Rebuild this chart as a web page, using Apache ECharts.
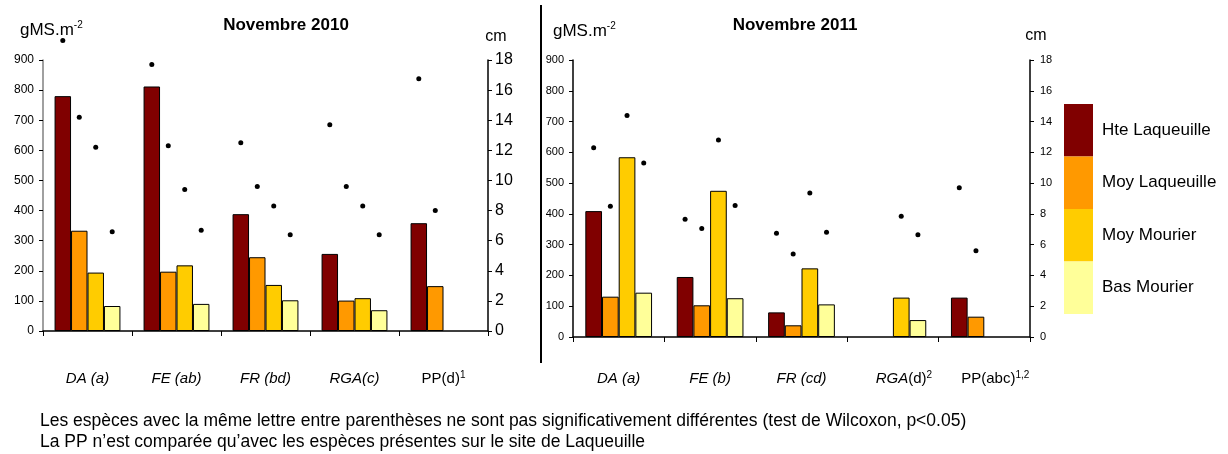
<!DOCTYPE html>
<html><head><meta charset="utf-8">
<script src="https://cdn.jsdelivr.net/npm/echarts@6/dist/echarts.min.js"></script>
<style>html,body{margin:0;padding:0;background:#fff}#c{width:1228px;height:454px}</style>
</head><body><div id="c"></div>
<script>
// ---- data ----
const species = ['DA', 'FE', 'FR', 'RGA', 'PP'];
const letters2010 = [' (a)', ' (ab)', ' (bd)', '(c)', '(d)'];
const notes2010 = ['', '', '', '', '1'];
const letters2011 = [' (a)', ' (b)', ' (cd)', '(d)', '(abc)'];
const notes2011 = ['', '', '', '2', '1,2'];
const sites = ['Hte Laqueuille', 'Moy Laqueuille', 'Moy Mourier', 'Bas Mourier'];

// biomass (gMS.m-2), Novembre 2010
const hte2010 = [780, 812, 388, 256, 358];
const moyLaq2010 = [333, 197, 245, 101, 149];
const moyMour2010 = [194, 218, 153, 109, null];
const bas2010 = [83, 90, 102, 69, null];
// height (cm), Novembre 2010
const hteCm2010 = [19.3, 17.7, 12.5, 13.7, 16.75];
const moyLaqCm2010 = [14.2, 12.3, 9.6, 9.6, 8.0];
const moyMourCm2010 = [12.2, 9.4, 8.3, 8.3, null];
const basCm2010 = [6.6, 6.7, 6.4, 6.4, null];

// biomass (gMS.m-2), Novembre 2011
const hte2011 = [409, 195, 80, null, 128];
const moyLaq2011 = [131, 103, 38, null, 66];
const moyMour2011 = [584, 475, 223, 128, null];
const bas2011 = [144, 126, 106, 55, null];
// height (cm), Novembre 2011
const hteCm2011 = [12.3, 7.65, 6.75, null, 9.7];
const moyLaqCm2011 = [8.5, 7.05, 5.4, null, 5.6];
const moyMourCm2011 = [14.4, 12.8, 9.35, 7.85, null];
const basCm2011 = [11.3, 8.55, 6.8, 6.65, null];

const biomassMax = 900, biomassStep = 100;
const cmMax = 18, cmStep = 2;

// ---- styling ----
const FONT = "'Liberation Sans',Arial,sans-serif";
const colors = ['#800000', '#FF9900', '#FFCC00', '#FFFF99'];

const bars = [[hte2010, moyLaq2010, moyMour2010, bas2010], [hte2011, moyLaq2011, moyMour2011, bas2011]];
const dots = [[hteCm2010, moyLaqCm2010, moyMourCm2010, basCm2010], [hteCm2011, moyLaqCm2011, moyMourCm2011, basCm2011]];
const catGaps = ['26%', '27%'];

const series = [];
for (let g = 0; g < 2; g++) {
  for (let s = 0; s < 4; s++) {
    series.push({
      type: 'bar', name: sites[s], xAxisIndex: g, yAxisIndex: 2 * g,
      data: bars[g][s], barGap: 0, barCategoryGap: catGaps[g],
      itemStyle: { color: colors[s], borderColor: '#000', borderWidth: 1 },
      emphasis: { disabled: true }, animation: false
    });
  }
  for (let s = 0; s < 4; s++) {
    series.push({
      type: 'pictorialBar', name: 'cm ' + sites[s], xAxisIndex: g, yAxisIndex: 2 * g + 1,
      data: dots[g][s], barGap: 0, barCategoryGap: catGaps[g],
      symbol: 'circle', symbolSize: [5, 5], symbolPosition: 'end', symbolOffset: [0, '-50%'],
      itemStyle: { color: '#000' }, z: 5, clip: false,
      emphasis: { disabled: true }, animation: false
    });
  }
}

function catLabel(letters, notes, shift) {
  return function (v, i) {
    const sp = species[i];
    if (!notes[i]) return '{i|' + sp + letters[i] + '}';
    const pre = shift ? '{g|}' : '';
    if (sp === 'PP') return pre + '{n|' + sp + letters[i] + '}{s|' + notes[i] + '}';
    return pre + '{i|' + sp + '}{n|' + letters[i] + '}{s|' + notes[i] + '}';
  };
}
const richLab = {
  i: { fontFamily: FONT, fontStyle: 'italic', fontSize: 15, color: '#000', lineHeight: 18 },
  n: { fontFamily: FONT, fontSize: 15, color: '#000', lineHeight: 18 },
  s: { fontFamily: FONT, fontSize: 10, color: '#000', lineHeight: 12, verticalAlign: 'top' },
  g: { width: 22 }
};

function xAx(g, letters, notes, margin) {
  return {
    type: 'category', gridIndex: g, data: species,
    axisLine: { lineStyle: { color: '#000', width: 1.5 } },
    axisTick: { show: true, length: 5, lineStyle: { color: '#000' } },
    axisLabel: { formatter: catLabel(letters, notes, g === 1), rich: richLab, margin: margin, interval: 0 },
    splitLine: { show: false }
  };
}
function yAx(g, pos, max, step, size, color, margin) {
  return {
    type: 'value', gridIndex: g, position: pos, min: 0, max: max, interval: step,
    axisLine: { show: true, lineStyle: { color: color, width: 1.5 } },
    axisTick: { show: true, length: 4, lineStyle: { color: '#000' } },
    axisLabel: { fontFamily: FONT, fontSize: size, color: '#000', margin: margin },
    splitLine: { show: false }
  };
}

const supRich = {
  m: { fontFamily: FONT, fontSize: 17, fill: '#000', lineHeight: 20 },
  s: { fontFamily: FONT, fontSize: 10, fill: '#000', lineHeight: 12, verticalAlign: 'top' }
};

const chart = echarts.init(document.getElementById('c'), null, { renderer: 'canvas' });
chart.setOption({
  animation: false,
  backgroundColor: '#fff',
  grid: [
    { left: 43, right: 740, top: 60, bottom: 123 },
    { left: 573, right: 198, top: 60, bottom: 117 }
  ],
  xAxis: [xAx(0, letters2010, notes2010, 39), xAx(1, letters2011, notes2011, 33)],
  yAxis: [
    yAx(0, 'left', biomassMax, biomassStep, 12, '#808080', 9),
    yAx(0, 'right', cmMax, cmStep, 16, '#000', 7),
    yAx(1, 'left', biomassMax, biomassStep, 11, '#000', 9),
    yAx(1, 'right', cmMax, cmStep, 11, '#000', 10)
  ],
  legend: {
    orient: 'vertical', left: 1064, top: 104, itemWidth: 29, itemHeight: 52.5, itemGap: 0, padding: 0,
    icon: 'rect', selectedMode: false, data: sites,
    itemStyle: { borderWidth: 0 },
    textStyle: { fontFamily: FONT, fontSize: 17, color: '#000', padding: [0, 0, 0, 4] }
  },
  graphic: [
    { type: 'line', shape: { x1: 541, y1: 5, x2: 541, y2: 363 }, style: { stroke: '#000', lineWidth: 2 } },
    { type: 'text', x: 286, y: 25, style: { text: 'Novembre 2010', font: 'bold 17px ' + FONT, fill: '#000', align: 'center', verticalAlign: 'middle' } },
    { type: 'text', x: 795, y: 25, style: { text: 'Novembre 2011', font: 'bold 17px ' + FONT, fill: '#000', align: 'center', verticalAlign: 'middle' } },
    { type: 'text', x: 20, y: 30, style: { text: '{m|gMS.m}{s|-2}', rich: supRich, verticalAlign: 'middle' } },
    { type: 'text', x: 553, y: 31, style: { text: '{m|gMS.m}{s|-2}', rich: supRich, verticalAlign: 'middle' } },
    { type: 'text', x: 496, y: 37, style: { text: 'cm', font: '16px ' + FONT, fill: '#000', align: 'center', verticalAlign: 'middle' } },
    { type: 'text', x: 1036, y: 36, style: { text: 'cm', font: '16px ' + FONT, fill: '#000', align: 'center', verticalAlign: 'middle' } },
    { type: 'text', x: 40, y: 421, style: { text: 'Les espèces avec la même lettre entre parenthèses ne sont pas significativement différentes (test de Wilcoxon, p<0.05)', font: '17.5px ' + FONT, fill: '#000', verticalAlign: 'middle' } },
    { type: 'text', x: 40, y: 442, style: { text: 'La PP n’est comparée qu’avec les espèces présentes sur le site de Laqueuille', font: '17.5px ' + FONT, fill: '#000', verticalAlign: 'middle' } }
  ],
  series: series
});
</script></body></html>
